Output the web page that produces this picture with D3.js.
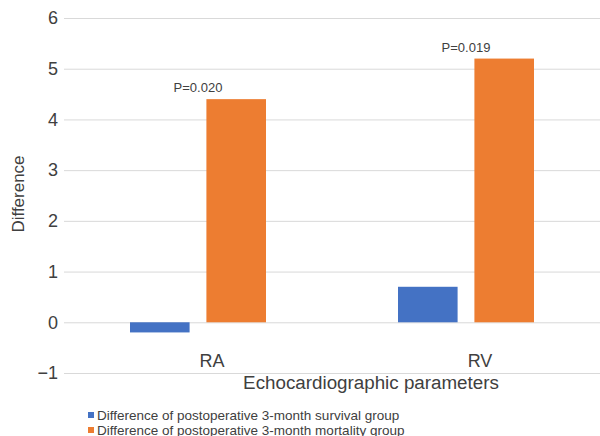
<!DOCTYPE html>
<html>
<head>
<meta charset="utf-8">
<script src="https://cdn.jsdelivr.net/npm/d3@7"></script>
<style>
  body { margin: 0; background: #fff; }
  svg { font-family: "Liberation Sans", Arial, sans-serif; }
</style>
</head>
<body>
<div id="chart"></div>
<script>
const categories = ['RA', 'RV'];
const seriesNames = [
  'Difference of postoperative 3-month survival group',
  'Difference of postoperative 3-month mortality group'
];
const survivalValues = [-0.2, 0.7];
const mortalityValues = [4.4, 5.2];
const pLabels = ['P=0.020', 'P=0.019'];
const yTicks = [-1, 0, 1, 2, 3, 4, 5, 6];
const colours = ['#4472C4', '#ED7D31'];

const width = 600, height = 436;
const margin = { top: 18, right: 0, bottom: 63, left: 64 };

const svg = d3.select('#chart').append('svg')
  .attr('width', width).attr('height', height);

const y = d3.scaleLinear().domain([-1, 6])
  .range([height - margin.bottom, margin.top]);
const x0 = d3.scaleBand().domain(categories)
  .range([margin.left, width - margin.right]);
const x1 = d3.scaleBand().domain([0, 1])
  .range([0, 136]).paddingInner(0.22);

// gridlines + tick labels
const yAxis = svg.append('g')
  .attr('transform', 'translate(' + margin.left + ',0)')
  .call(d3.axisLeft(y).tickValues(yTicks)
    .tickSize(-(width - margin.left - margin.right))
    .tickPadding(6)
    .tickFormat(d => d < 0 ? '\u2212' + Math.abs(d) : d));
yAxis.select('.domain').remove();
yAxis.selectAll('.tick line').attr('stroke', '#d9d9d9').attr('stroke-width', 1);
yAxis.selectAll('.tick text').attr('fill', '#404040').style('font-size', '18px');

const rows = categories.map((c, i) => ({ cat: c, vals: [survivalValues[i], mortalityValues[i]], p: pLabels[i] }));

const groups = svg.append('g').selectAll('g').data(rows).join('g')
  .attr('transform', d => 'translate(' + (x0(d.cat) + x0.bandwidth() / 2 - 68) + ',0)');

groups.selectAll('rect').data(d => d.vals.map((v, k) => ({ v, k }))).join('rect')
  .attr('x', d => x1(d.k))
  .attr('width', x1.bandwidth())
  .attr('y', d => y(Math.max(0, d.v)))
  .attr('height', d => Math.abs(y(d.v) - y(0)))
  .attr('fill', d => colours[d.k]);

groups.append('text')
  .attr('x', 68)
  .attr('y', d => y(d.vals[1]) - 7)
  .attr('text-anchor', 'middle')
  .attr('fill', '#404040')
  .style('font-size', '13px')
  .text(d => d.p);

// category labels
svg.append('g').selectAll('text').data(categories).join('text')
  .attr('x', d => x0(d) + x0.bandwidth() / 2 + 14)
  .attr('y', 367)
  .attr('text-anchor', 'middle')
  .attr('fill', '#404040')
  .style('font-size', '18px')
  .text(d => d);

// axis titles
svg.append('text')
  .attr('x', 371).attr('y', 389)
  .attr('text-anchor', 'middle')
  .attr('fill', '#404040')
  .style('font-size', '18.8px')
  .text('Echocardiographic parameters');

svg.append('text')
  .attr('transform', 'translate(24,194) rotate(-90)')
  .attr('text-anchor', 'middle')
  .attr('fill', '#404040')
  .style('font-size', '17px')
  .text('Difference');

// legend
const legend = svg.append('g').selectAll('g').data(seriesNames).join('g')
  .attr('transform', (d, i) => 'translate(88,' + (415 + i * 15) + ')');
legend.append('rect')
  .attr('x', 0).attr('y', -3).attr('width', 6).attr('height', 6)
  .attr('fill', (d, i) => colours[i]);
legend.append('text')
  .attr('x', 9).attr('y', 4.5)
  .attr('fill', '#404040')
  .style('font-size', '13.5px')
  .text(d => d);
</script>
</body>
</html>
